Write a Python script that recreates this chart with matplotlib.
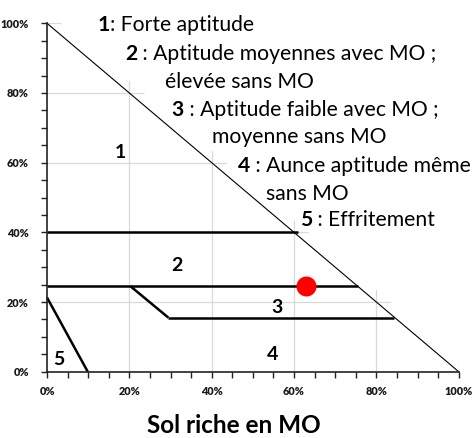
import matplotlib
matplotlib.use("Agg")
import matplotlib.pyplot as plt
from matplotlib.patches import Polygon
from matplotlib.ticker import MultipleLocator, FuncFormatter

W, H, DPI = 472, 438, 100

# ---- data (percent) ----
diagonal_x = [0, 100]
diagonal_y = [100, 0]
limit_40_x = [0, 61]
limit_40_y = [40, 40]
limit_25_x = [0, 75.6]
limit_25_y = [24.6, 24.6]
limit_slope_x = [20.2, 29.5]
limit_slope_y = [24.6, 15.5]
limit_15_x = [29.5, 84.2]
limit_15_y = [15.5, 15.5]
limit_5_x = [0, 9.9]
limit_5_y = [21.3, 0]
point_x = [62.9]
point_y = [24.7]
zone_labels = ["1", "2", "3", "4", "5"]
zone_x = [17.8, 31.6, 55.9, 54.8, 2.9]
zone_y = [63.0, 30.6, 18.5, 5.0, 3.4]
legend_lines = [
    ("1", ": Forte aptitude"),
    ("2", " : Aptitude moyennes avec MO ;"),
    ("", "élevée sans MO"),
    ("3", " : Aptitude faible avec MO ;"),
    ("", "moyenne sans MO"),
    ("4", " : Aunce aptitude même"),
    ("", "sans MO"),
    ("5", " : Effritement"),
]
legend_px_x = [98, 125, 165, 171.5, 212.5, 238, 266, 300]
legend_px_base = [31, 60, 88, 116, 143, 172.5, 200, 226.5]
title = "Sol riche en MO"
tick_values = [0, 20, 40, 60, 80, 100]

FONT = "Lato"
plt.rcParams["font.family"] = [FONT, "DejaVu Sans"]

fig = plt.figure(figsize=(W / DPI, H / DPI), dpi=DPI)
x0, x1 = 47 / W, 458.7 / W
y0, y1 = 1 - 371.7 / H, 1 - 23.3 / H
ax = fig.add_axes([x0, y0, x1 - x0, y1 - y0])
ax.set_xlim(0, 100)
ax.set_ylim(0, 100)

for s in ["top", "right"]:
    ax.spines[s].set_visible(False)
for s in ["left", "bottom"]:
    ax.spines[s].set_color("#222222")
    ax.spines[s].set_linewidth(1.2)
ax.spines["left"].set_zorder(5)
ax.spines["bottom"].set_zorder(5)

ax.xaxis.set_major_locator(MultipleLocator(20))
ax.yaxis.set_major_locator(MultipleLocator(20))
ax.xaxis.set_minor_locator(MultipleLocator(5))
ax.yaxis.set_minor_locator(MultipleLocator(5))
fmt = FuncFormatter(lambda v, p: f"{int(round(v))}%")
ax.xaxis.set_major_formatter(fmt)
ax.yaxis.set_major_formatter(fmt)
ax.tick_params(which="both", direction="out", length=4, width=1, color="#222222")
ax.tick_params(axis="x", which="major", pad=6)
ax.tick_params(axis="y", which="major", pad=9)
for lab in ax.get_xticklabels() + ax.get_yticklabels():
    lab.set_fontweight("heavy")
    lab.set_fontsize(7.8)
    lab.set_color("#1a1a1a")

# gridlines clipped to (slightly enlarged) triangle
clip = Polygon([(0, 0), (103.5, 0), (0, 103.5)], closed=True, transform=ax.transData,
               facecolor="none", edgecolor="none")
ax.add_patch(clip)
for v in tick_values[1:]:
    gl = ax.axhline(v, color="#d9d9d9", lw=0.9, zorder=0)
    gl.set_clip_path(clip)
    gl2 = ax.axvline(v, color="#d9d9d9", lw=0.9, zorder=0)
    gl2.set_clip_path(clip)

ax.plot(diagonal_x, diagonal_y, color="black", lw=0.8, zorder=3, clip_on=False)
for xs, ys in [(limit_40_x, limit_40_y), (limit_25_x, limit_25_y),
               (limit_slope_x, limit_slope_y), (limit_15_x, limit_15_y),
               (limit_5_x, limit_5_y)]:
    ax.plot(xs, ys, color="black", lw=1.8, zorder=3, solid_capstyle="butt", clip_on=False)

ax.plot(point_x, point_y, "o", color="#ff0000", markersize=14.4, markeredgewidth=0, zorder=4)

for lab, zx, zy in zip(zone_labels, zone_x, zone_y):
    ax.text(zx, zy, lab, fontsize=14, fontweight="bold", ha="center", va="center", color="black")

# legend lines
fig.canvas.draw()
renderer = fig.canvas.get_renderer()
for (num, rest), px, pb in zip(legend_lines, legend_px_x, legend_px_base):
    xx = px
    if num:
        t = fig.text(px / W, 1 - pb / H, num, fontsize=15.2, fontweight="bold",
                     ha="left", va="baseline", color="black")
        bb = t.get_window_extent(renderer)
        xx = bb.x1
    fig.text(xx / W, 1 - pb / H, rest, fontsize=15.2, ha="left", va="baseline", color="black")

fig.text(234 / W, 1 - 433 / H, title, fontsize=17.5, fontweight="bold",
         ha="center", va="baseline", color="black")

fig.savefig("out.png", dpi=DPI)
